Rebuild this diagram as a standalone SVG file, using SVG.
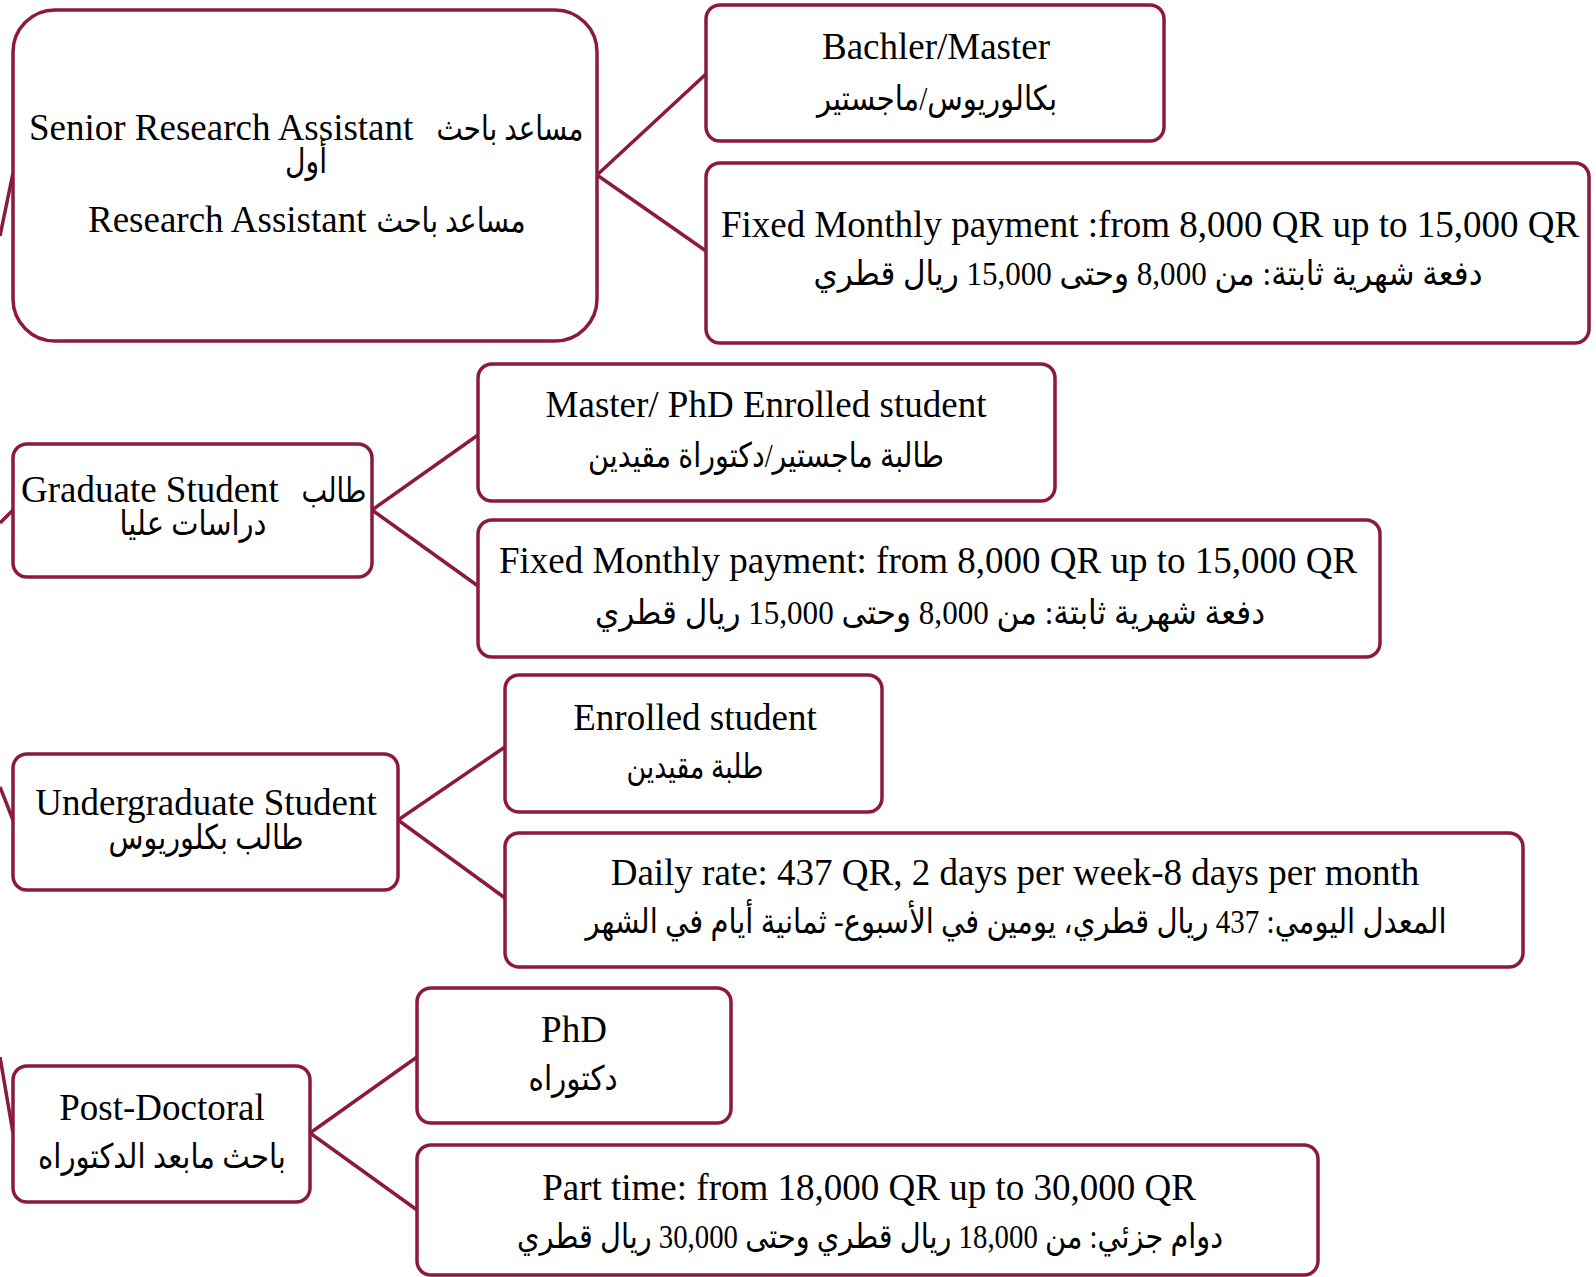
<svg xmlns="http://www.w3.org/2000/svg" width="1596" height="1277" viewBox="0 0 1596 1277">
<style>
.box{fill:#fff;stroke:#8B1A3C;stroke-width:3.5}
.ln{fill:none;stroke:#8B1A3C;stroke-width:3.5}
.t{font-family:'Liberation Serif','DejaVu Sans',serif;font-size:37px;fill:#000;text-anchor:middle}
.s{text-anchor:start}
.ar{font-family:'Liberation Serif','DejaVu Sans',serif;font-size:34px;fill:#000;text-anchor:middle;direction:rtl}
</style>
<rect width="1596" height="1277" fill="#fff"/>
<g id="connectors">
<path class="ln" d="M0,236 L13,173"/>
<path class="ln" d="M0,523 L13,510"/>
<path class="ln" d="M0,787 L13,820"/>
<path class="ln" d="M0,1057 L13,1133"/>
<path class="ln" d="M706,74 L597,175 L706,251"/>
<path class="ln" d="M478,435 L372,510 L478,586"/>
<path class="ln" d="M505,747 L398,820 L505,898"/>
<path class="ln" d="M417,1057 L310,1133 L417,1210"/>
</g>
<g id="senior">
<rect class="box" x="13" y="10" width="584" height="331" rx="42"/>
<text class="t s" x="29" y="140">Senior Research Assistant</text>
<text class="ar" x="510" y="140" textLength="147" lengthAdjust="spacingAndGlyphs">مساعد باحث</text>
<text class="ar" x="306" y="173" textLength="42" lengthAdjust="spacingAndGlyphs">أول</text>
<text class="t s" x="88" y="232">Research Assistant</text>
<text class="ar" x="451" y="232" textLength="149" lengthAdjust="spacingAndGlyphs">مساعد باحث</text>
</g>
<g id="bachler">
<rect class="box" x="706" y="5" width="458" height="136" rx="14"/>
<text class="t" x="936" y="59">Bachler/Master</text>
<text class="ar" x="937" y="110" textLength="240" lengthAdjust="spacingAndGlyphs">بكالوريوس/ماجستير</text>
</g>
<g id="fixed1">
<rect class="box" x="706" y="163" width="883" height="180" rx="14"/>
<text class="t" x="1150" y="237">Fixed Monthly payment :from 8,000 QR up to 15,000 QR</text>
<text class="ar" x="1148" y="285" textLength="669" lengthAdjust="spacingAndGlyphs">دفعة شهرية ثابتة: من 8,000 وحتى 15,000 ريال قطري</text>
</g>
<g id="graduate">
<rect class="box" x="13" y="444" width="359" height="133" rx="14"/>
<text class="t s" x="21" y="502">Graduate Student</text>
<text class="ar" x="334" y="502" textLength="65" lengthAdjust="spacingAndGlyphs">طالب</text>
<text class="ar" x="193" y="535" textLength="147" lengthAdjust="spacingAndGlyphs">دراسات عليا</text>
</g>
<g id="masterphd">
<rect class="box" x="478" y="364" width="577" height="137" rx="14"/>
<text class="t" x="766" y="417">Master/ PhD Enrolled student</text>
<text class="ar" x="766" y="467" textLength="356" lengthAdjust="spacingAndGlyphs">طالبة ماجستير/دكتوراة مقيدين</text>
</g>
<g id="fixed2">
<rect class="box" x="478" y="520" width="902" height="137" rx="14"/>
<text class="t" x="928" y="573">Fixed Monthly payment: from 8,000 QR up to 15,000 QR</text>
<text class="ar" x="930" y="624" textLength="670" lengthAdjust="spacingAndGlyphs">دفعة شهرية ثابتة: من 8,000 وحتى 15,000 ريال قطري</text>
</g>
<g id="undergraduate">
<rect class="box" x="13" y="754" width="385" height="136" rx="14"/>
<text class="t" x="206" y="815">Undergraduate Student</text>
<text class="ar" x="206" y="849" textLength="195" lengthAdjust="spacingAndGlyphs">طالب بكلوريوس</text>
</g>
<g id="enrolled">
<rect class="box" x="505" y="675" width="377" height="137" rx="14"/>
<text class="t" x="695" y="730">Enrolled student</text>
<text class="ar" x="695" y="778" textLength="137" lengthAdjust="spacingAndGlyphs">طلبة مقيدين</text>
</g>
<g id="daily">
<rect class="box" x="505" y="833" width="1018" height="134" rx="14"/>
<text class="t" x="1015" y="885">Daily rate: 437 QR, 2 days per week-8 days per month</text>
<text class="ar" x="1016" y="933" textLength="861" lengthAdjust="spacingAndGlyphs">المعدل اليومي: 437 ريال قطري، يومين في الأسبوع- ثمانية أيام في الشهر</text>
</g>
<g id="postdoc">
<rect class="box" x="13" y="1066" width="297" height="136" rx="14"/>
<text class="t" x="162" y="1120">Post-Doctoral</text>
<text class="ar" x="162" y="1168" textLength="248" lengthAdjust="spacingAndGlyphs">باحث مابعد الدكتوراه</text>
</g>
<g id="phd">
<rect class="box" x="417" y="988" width="314" height="135" rx="14"/>
<text class="t" x="574" y="1042">PhD</text>
<text class="ar" x="573" y="1090" textLength="89" lengthAdjust="spacingAndGlyphs">دكتوراه</text>
</g>
<g id="parttime">
<rect class="box" x="417" y="1145" width="901" height="130" rx="14"/>
<text class="t" x="869" y="1200">Part time: from 18,000 QR up to 30,000 QR</text>
<text class="ar" x="870" y="1248" textLength="706" lengthAdjust="spacingAndGlyphs">دوام جزئي: من 18,000 ريال قطري وحتى 30,000 ريال قطري</text>
</g>
</svg>
